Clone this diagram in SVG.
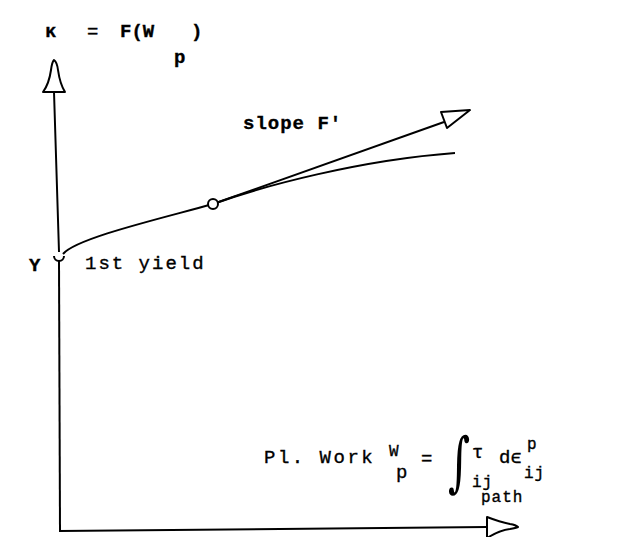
<svg xmlns="http://www.w3.org/2000/svg" width="628" height="537" viewBox="0 0 628 537">
<style>
.t{font-family:"Liberation Mono","DejaVu Sans Mono",monospace;font-size:19px;fill:#000;stroke:#000;stroke-width:0.35}
.b{font-weight:bold}
.s{font-size:16px}
.ln{fill:none;stroke:#000;stroke-width:2}
.ah{fill:#fff;stroke:#000;stroke-width:2;stroke-linejoin:round}
</style>
<rect width="628" height="537" fill="#fff"/>
<g id="connectors">
<line class="ln" x1="54" y1="92" x2="59" y2="252"/>
<line class="ln" x1="59" y1="261" x2="60" y2="531"/>
<line class="ln" x1="59" y1="531" x2="487" y2="527"/>
<path class="ah" d="M54,60 Q57,62 58,70 Q60,84 65,92 L43,92 Q49,84 51,70 Q52,62 54,60 Z"/>
<path class="ah" d="M487,517 L487,538 Q500,530 510,529 Q516,528 518,527 Q516,525 510,524 Q500,522 487,517 Z"/>
<path class="ln" d="M63,254 C76,238 163,218 213,204 C263,186 360,160 455,153" stroke-width="2.5"/>
<line class="ln" x1="213" y1="204" x2="444" y2="122"/>
<path class="ah" d="M470,110 L441,112 L447,128 Z"/>
</g>
<g id="yield-point"><path class="ln" d="M54,256 A5,5 0 0 0 64,256"/></g>
<g id="tangent-point"><circle cx="213" cy="204" r="5" fill="#fff" stroke="#000" stroke-width="2"/></g>
<g id="title">
<text class="t b" x="45" y="37" font-size="22">κ</text>
<text class="t" x="87" y="37" font-size="22">=</text>
<text class="t b" x="120" y="37" font-size="21">F(W</text>
<text class="t b" x="191" y="37" font-size="21">)</text>
<text class="t b" x="174" y="63" font-size="21">p</text>
</g>
<g id="slope-label"><text class="t b" x="243" y="129" letter-spacing="1">slope F'</text></g>
<g id="y-label"><text class="t b" x="29" y="271" font-size="20">Y</text></g>
<g id="yield-label"><text class="t" x="85" y="269" letter-spacing="2">1st yield</text></g>
<g id="work-label">
<text class="t" x="264" y="463" letter-spacing="2.5">Pl. Work</text>
<text class="t s" x="389" y="456" font-size="14">W</text>
<text class="t" x="396" y="478">p</text>
<text class="t" x="421" y="464" font-size="24">=</text>
<text font-family="DejaVu Serif, serif" font-size="50" transform="translate(448,484) scale(0.85,1.3)">∫</text>
<text class="t" x="472" y="458" font-size="20">τ</text>
<text class="t s" x="472" y="487" letter-spacing="1">ij</text>
<text class="t" x="499" y="463">dϵ</text>
<text class="t s" x="527" y="449">p</text>
<text class="t s" x="524" y="478" letter-spacing="1">ij</text>
<text class="t s" x="481" y="502" letter-spacing="1">path</text>
</g>
</svg>
